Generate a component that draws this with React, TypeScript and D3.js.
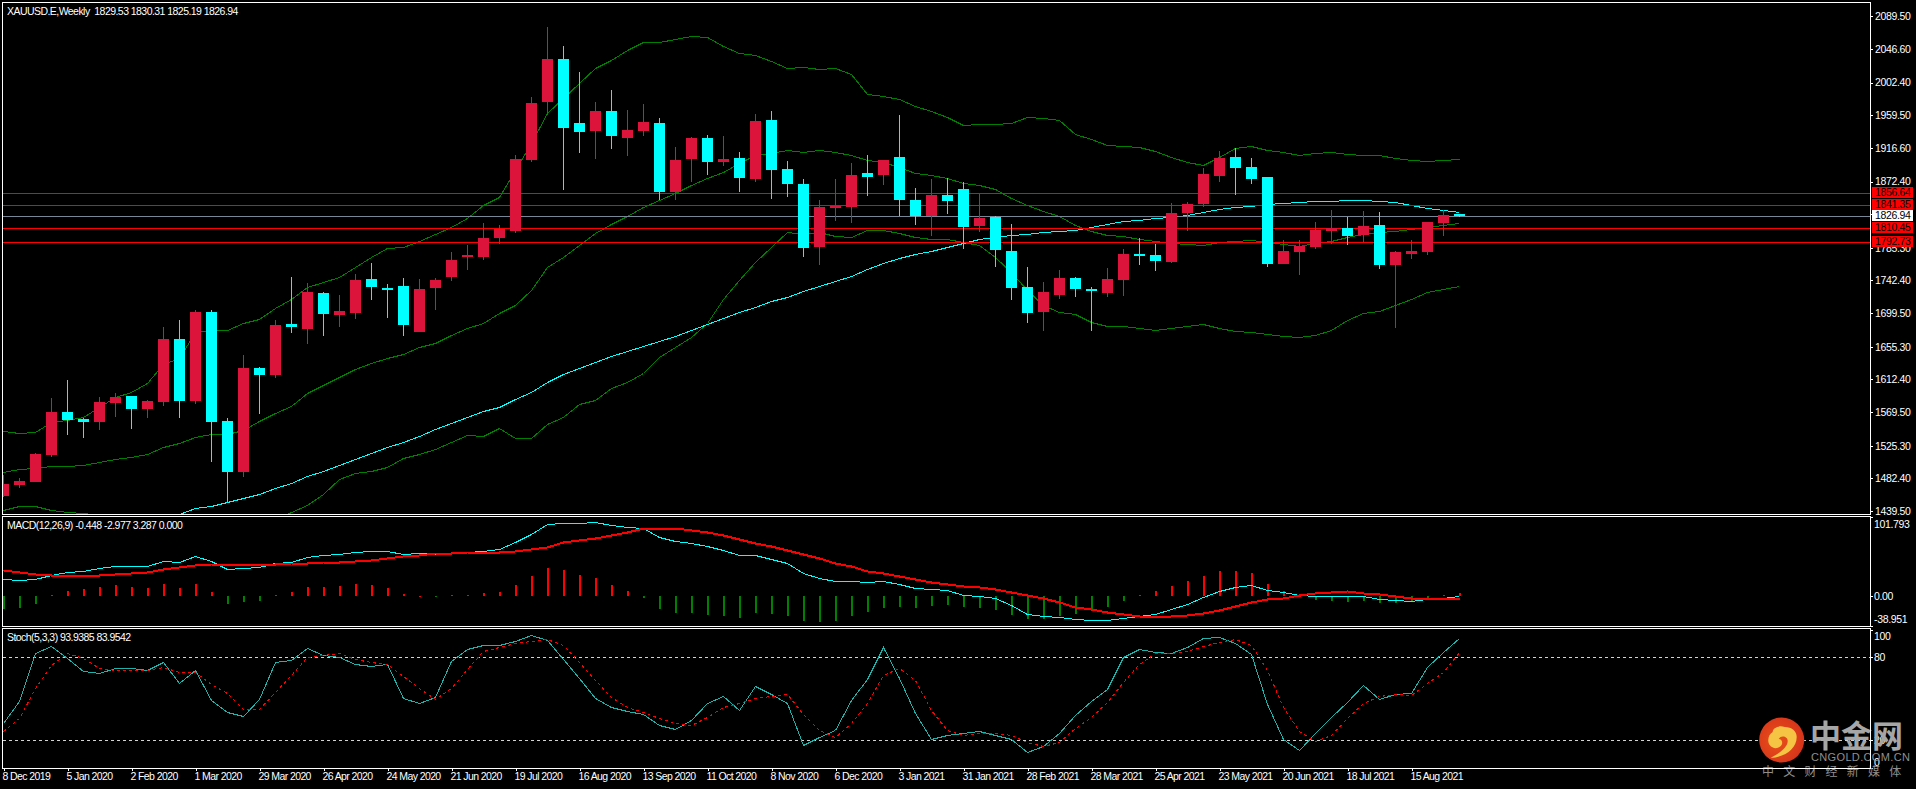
import * as d3 from "d3";
import { useEffect, useRef } from "react";

const W = 1916;
const H = 789;
const plotLeft = 3;
const plotRight = 1870;
const mainPane = { top: 3, bottom: 514 };
const macdPane = { top: 517, bottom: 626 };
const stochPane = { top: 629, bottom: 768 };

const opens = [1459.2,1473.7,1477.6,1513.1,1569.6,1560.4,1556.5,1581.4,1590.6,1573.5,1582.7,1665.5,1584.0,1701.0,1557.8,1490.8,1627.4,1618.2,1685.2,1678.7,1726.0,1697.1,1699.7,1744.4,1732.5,1735.2,1674.7,1732.5,1747.0,1773.3,1773.3,1798.2,1807.4,1900.7,1976.9,2033.4,1949.3,1938.8,1965.1,1929.6,1938.8,1949.3,1858.7,1902.0,1929.6,1898.1,1903.3,1875.8,1953.3,1888.9,1869.2,1786.4,1837.7,1839.0,1883.6,1881.0,1904.7,1848.2,1827.1,1854.7,1862.6,1814.0,1825.8,1781.1,1733.8,1701.0,1723.3,1745.7,1731.2,1726.0,1743.0,1777.2,1775.9,1766.7,1831.1,1842.9,1879.7,1904.7,1891.5,1878.4,1764.1,1779.8,1786.4,1807.4,1811.4,1802.2,1815.3,1762.8,1777.2,1779.8,1817.9,1829.53];
const highs = [1486.8,1482.9,1515.7,1588.0,1611.6,1561.7,1589.3,1594.6,1590.6,1585.4,1681.3,1690.5,1703.6,1703.6,1561.7,1644.5,1628.7,1690.5,1747.0,1739.1,1727.3,1723.3,1750.9,1765.4,1737.8,1745.7,1744.4,1745.7,1779.8,1789.0,1817.9,1815.3,1907.3,1983.5,2075.5,2050.5,2016.4,1976.9,1992.7,1966.4,1974.3,1955.9,1917.8,1930.9,1933.6,1932.3,1911.2,1961.2,1965.1,1899.4,1875.8,1848.2,1875.8,1896.8,1907.3,1900.7,1959.9,1863.9,1875.8,1877.1,1871.8,1856.0,1827.1,1816.6,1760.1,1740.4,1756.2,1747.0,1733.8,1758.8,1783.8,1798.2,1790.3,1844.2,1845.5,1890.2,1912.5,1916.5,1903.3,1878.4,1795.6,1795.6,1819.3,1835.0,1825.8,1833.7,1832.4,1781.1,1795.6,1819.3,1835.0,1830.31];
const lows = [1458.3,1469.7,1477.6,1510.5,1539.4,1535.4,1545.9,1563.0,1547.3,1561.7,1577.5,1561.7,1580.1,1503.9,1451.3,1484.2,1567.0,1614.3,1673.4,1658.9,1669.5,1681.3,1691.8,1716.8,1693.1,1669.5,1674.7,1703.6,1741.7,1756.2,1769.3,1790.3,1804.8,1898.1,1959.9,1861.3,1909.9,1902.0,1915.2,1906.0,1932.3,1848.2,1848.2,1871.8,1881.0,1892.8,1858.7,1871.8,1849.5,1852.1,1773.3,1762.8,1820.6,1817.9,1853.4,1867.9,1826.7,1815.3,1800.9,1829.8,1783.8,1806.1,1760.1,1716.8,1686.5,1676.0,1718.1,1720.7,1676.0,1720.7,1722.0,1762.8,1754.9,1765.4,1807.4,1839.0,1871.8,1854.7,1869.2,1760.1,1764.1,1749.6,1783.8,1790.3,1789.0,1793.0,1757.5,1680.0,1770.6,1775.9,1800.9,1825.19];
const closes = [1475.0,1478.9,1514.4,1569.6,1559.1,1556.5,1582.7,1589.3,1573.5,1584.0,1665.5,1584.0,1701.0,1556.5,1490.8,1627.4,1618.2,1683.9,1681.3,1727.3,1698.4,1702.3,1743.0,1733.8,1729.9,1683.9,1731.2,1743.0,1769.3,1775.9,1798.2,1810.5,1902.0,1975.6,2033.4,1942.8,1937.5,1965.1,1932.3,1940.1,1950.7,1858.7,1900.7,1929.6,1898.1,1902.0,1877.1,1952.0,1887.6,1869.2,1785.1,1839.0,1840.3,1881.0,1878.4,1900.7,1848.2,1827.1,1854.7,1846.9,1812.7,1824.5,1782.5,1732.5,1699.7,1727.3,1745.7,1731.2,1728.6,1744.4,1777.2,1775.9,1768.0,1831.1,1842.9,1882.3,1903.3,1890.2,1875.8,1764.1,1781.1,1787.7,1808.7,1811.4,1800.9,1814.0,1762.8,1779.8,1781.1,1819.3,1828.5,1826.94];

const bbUpper = [1545.1,1541.6,1543.3,1556.9,1559.1,1563.5,1575.7,1589.8,1596.3,1608.1,1632.7,1640.1,1675.2,1677.4,1677.4,1686.1,1691.4,1705.8,1718.1,1734.3,1740.9,1746.6,1760.6,1773.7,1784.7,1786.9,1794.8,1803.1,1813.2,1824.1,1841.6,1852.6,1887.6,1922.7,1962.1,1981.8,2001.5,2021.2,2032.2,2045.3,2056.2,2055.4,2059.3,2063.3,2061.9,2050.6,2041.8,2038.7,2030.8,2021.2,2022.5,2020.3,2021.2,2013.8,1987.9,1984.9,1980.5,1971.7,1965.1,1957.7,1946.3,1947.6,1948.5,1948.9,1956.8,1955.5,1953.3,1934.5,1927.9,1920.0,1919.6,1917.4,1912.6,1904.3,1897.7,1893.8,1905.1,1916.1,1918.7,1913.5,1910.8,1907.8,1909.5,1910.8,1908.2,1906.9,1906.9,1903.8,1900.3,1899.0,1900.3,1901.6];
const bbMiddle = [1491.2,1494.3,1496.5,1498.2,1498.2,1500.0,1504.4,1507.4,1510.1,1514.4,1523.2,1528.5,1537.2,1540.3,1540.3,1546.0,1558.2,1567.9,1577.5,1594.2,1605.1,1616.1,1625.7,1633.6,1640.1,1645.8,1654.6,1660.7,1670.8,1679.6,1687.0,1699.3,1710.2,1729.9,1760.6,1773.7,1789.1,1804.4,1816.7,1827.2,1839.4,1848.2,1857.0,1867.9,1876.7,1885.4,1896.4,1907.3,1909.5,1913.5,1911.7,1914.3,1910.8,1907.3,1900.8,1897.7,1892.0,1884.1,1881.0,1876.7,1870.1,1867.9,1862.7,1850.4,1841.6,1834.2,1827.2,1815.3,1807.9,1801.8,1800.9,1797.0,1794.8,1791.7,1789.9,1789.5,1792.6,1794.3,1796.1,1793.4,1789.9,1788.2,1791.3,1793.9,1800.0,1803.1,1805.7,1807.5,1809.7,1812.3,1815.3,1817.5];
const bbLower = [1440.9,1446.1,1446.1,1440.9,1437.8,1436.9,1434.3,1432,1429,1425,1420,1417,1414,1413,1415,1418,1422,1428,1438.7,1447.4,1461.4,1481.2,1489.9,1492.1,1497.8,1508.7,1514.4,1521.0,1529.8,1539.4,1538.1,1548.2,1535.0,1535.0,1553.4,1563.5,1580.1,1585.4,1600.7,1609.5,1621.3,1641.5,1655.5,1667.7,1687.0,1718.1,1743.1,1767.2,1786.9,1805.7,1804.0,1806.6,1800.9,1799.1,1808.8,1808.3,1805.3,1799.1,1797.4,1796.5,1792.6,1789.1,1773.7,1754.0,1729.9,1710.2,1700.6,1698.4,1688.3,1682.2,1682.2,1679.6,1676.9,1679.6,1683.1,1685.3,1679.6,1675.6,1674.3,1671.7,1669.9,1668.6,1670.4,1677.4,1690.5,1699.3,1701.9,1710.7,1718.1,1727.3,1730.8,1734.8];
const movingAvg = [1398,1401,1404,1407,1410,1413,1416,1419,1422,1425,1429,1435.2,1443.9,1446.6,1450.9,1456.2,1461.9,1469.3,1475.9,1485.5,1492.5,1500.0,1507.4,1515.3,1523.2,1530.6,1538.5,1546.9,1554.7,1563.5,1571.4,1576.6,1586.7,1596.3,1608.6,1619.6,1627.0,1634.9,1643.7,1650.2,1656.4,1663.4,1669.5,1677.4,1685.3,1692.7,1701.0,1708.0,1715.0,1721.2,1728.6,1735.2,1741.3,1748.8,1757.1,1765.9,1772.4,1777.2,1781.6,1786.0,1791.3,1796.5,1800.0,1802.2,1804.0,1805.7,1807.5,1809.2,1812.3,1816.7,1820.2,1821.9,1824.1,1826.3,1828.5,1832.9,1835.9,1838.6,1840.3,1842.9,1843.8,1845.6,1846.4,1846.4,1847.8,1847.8,1846.4,1845.1,1841.6,1837.2,1834.6,1832.0];

const macdMain = [21.5,20.2,22.0,26.7,30.6,31.8,35.7,37.9,37.9,38.3,44.8,43.5,51.2,45.2,34.4,35.7,37.4,42.2,44.3,50.4,52.5,53.8,56.0,57.7,57.7,53.8,54.7,53.8,55.5,56.4,58.5,60.3,68.9,80.1,92.5,93.8,93.8,95.1,92.1,89.5,87.4,75.8,70.2,68.4,64.6,59.4,52.9,52.5,48.2,42.2,29.3,23.2,18.9,18.9,17.6,18.9,15.5,9.5,8.2,6.9,1.7,0,-3.4,-11.2,-23.2,-26.3,-27.5,-29.3,-31.4,-31.4,-28.8,-25.8,-23.7,-16.4,-10.8,-1.7,5.6,11.2,13.8,6.9,5.2,1.7,0,-0.4,-0.4,-0.4,-3.9,-6.0,-6.9,-4.7,-2.2,-0.448];
const macdSignal = [33.6,31.4,28.8,26.3,26.3,26.3,26.3,28.4,29.3,30.6,34.4,37.0,40.0,40.9,41.3,41.3,41.3,41.7,42.6,43.0,43.5,44.3,44.8,46.9,49.1,51.2,52.9,54.7,55.5,56.0,56.4,56.8,57.7,60.3,63.7,69.3,72.3,75.3,78.3,81.8,87.4,87.8,87.8,85.2,82.6,78.8,73.6,68.4,64.6,59.4,54.2,48.6,42.2,37.9,32.7,29.3,25.4,22.0,18.1,15.5,12.5,11.2,8.6,5.2,1.3,-3.4,-8.2,-13.8,-17.6,-21.1,-24.1,-26.3,-26.7,-25.8,-25.0,-22.4,-18.5,-13.3,-8.6,-4.3,-2.2,0.9,3.4,4.7,5.6,4.3,2.2,-0.4,-2.2,-2.2,-2.6,-2.977];
const macdHist = [-17.6,-15.1,-10.3,0.9,6.5,9.0,11.6,14.2,11.6,10.3,15.5,10.3,15.5,5.2,-10.3,-7.7,-6.5,0.9,5.2,11.6,11.6,12.9,15.5,14.2,10.3,2.6,0.4,-0.4,0.9,0.9,3.9,5.2,14.2,25.8,36.2,33.6,27.1,23.2,14.2,6.5,-2.6,-16.8,-22.0,-22.0,-24.5,-25.8,-28.4,-22.0,-23.2,-25.8,-32.3,-33.6,-32.3,-25.8,-20.7,-15.5,-14.2,-15.5,-12.9,-11.6,-14.2,-15.5,-18.1,-24.5,-29.7,-29.7,-25.8,-23.2,-19.4,-14.2,-6.5,1.3,5.6,12.9,19.4,25.8,32.3,32.3,29.7,15.5,6.5,0.2,-5.2,-6.5,-7.7,-6.5,-9.0,-9.0,-7.7,-4.3,0.9,3.287];

const stochMain = [32.8,48.4,83.4,88.2,79.3,70.4,68.4,72.0,72.0,70.8,76.4,61.2,71.1,49.2,40.2,37.8,50.1,76.6,78.3,86.7,81.4,80.2,74.9,74.0,74.9,50.4,46.7,51.1,77.6,86.0,88.7,88.7,92.1,95.9,92.3,78.8,64.8,50.4,43.8,41.0,38.8,31.1,27.9,34.7,46.7,51.8,41.7,59.5,53.5,46.7,16.9,22.2,27.7,48.9,64.1,87.2,64.8,39.5,21.2,23.8,25.5,26.5,23.6,21.2,11.3,15.9,25.5,38.3,48.4,56.9,80.5,85.8,83.6,83.4,87.2,93.7,94.5,90.6,82.4,46.3,21.2,12.8,25.5,37.1,47.5,59.8,49.6,53.3,54.2,73.3,84.1,93.94];
const stochSignal = [26.7,35.9,57.6,74.5,83.4,79.3,72.5,70.6,70.6,71.1,73.0,69.2,69.6,60.5,54.0,42.6,42.9,55.2,67.2,80.5,81.9,82.9,78.8,76.4,74.9,66.7,58.1,49.6,57.6,71.3,84.8,87.7,90.6,92.1,93.0,88.7,76.9,63.6,51.6,44.3,40.7,35.9,32.3,31.1,37.1,44.3,46.7,50.8,52.0,53.5,39.0,27.5,22.2,32.3,46.7,67.2,72.5,63.6,41.9,27.5,23.8,25.5,25.1,23.8,19.0,16.1,18.5,28.7,37.1,47.5,62.2,74.9,82.9,83.4,84.3,88.2,90.8,93.3,88.9,70.8,44.3,27.0,19.7,23.8,35.9,47.2,52.0,53.7,52.8,61.2,69.6,83.95];

const priceTicks = [2089.5,2046.6,2002.4,1959.5,1916.6,1872.4,1829.5,1785.3,1742.4,1699.5,1655.3,1612.4,1569.5,1525.3,1482.4,1439.5];
const levels = [1856.64,1841.35,1810.45,1792.73];
const lastPrice = 1826.94;
const macdTicks = [101.793,0,-38.951];
const stochTicks = [100,80,20,0];
const stochLevels = [80,20];
const dateLabels = ["8 Dec 2019","5 Jan 2020","2 Feb 2020","1 Mar 2020","29 Mar 2020","26 Apr 2020","24 May 2020","21 Jun 2020","19 Jul 2020","16 Aug 2020","13 Sep 2020","11 Oct 2020","8 Nov 2020","6 Dec 2020","3 Jan 2021","31 Jan 2021","28 Feb 2021","28 Mar 2021","25 Apr 2021","23 May 2021","20 Jun 2021","18 Jul 2021","15 Aug 2021"];

const font = "'Liberation Sans', Arial, sans-serif";

function drawChart(node: SVGSVGElement) {
  const svg = d3.select(node);
  svg.selectAll("*").remove();

  const x = d3.scaleLinear().domain([0, opens.length - 1]).range([3.5, 1459.5]);
  const yPrice = d3.scaleLinear().domain([1439.5, 2089.5]).range([511, 16.3]);
  const yMacd = d3.scaleLinear().domain([-38.951, 101.793]).range([macdPane.bottom, macdPane.top]);
  const yStoch = d3.scaleLinear().domain([0, 100]).range([stochPane.bottom, 629.6]);

  svg.append("rect").attr("width", W).attr("height", H).attr("fill", "#000");

  const defs = svg.append("defs");
  const addClip = (id: string, pane: { top: number; bottom: number }) =>
    defs
      .append("clipPath")
      .attr("id", id)
      .append("rect")
      .attr("x", plotLeft)
      .attr("y", pane.top)
      .attr("width", plotRight - plotLeft)
      .attr("height", pane.bottom - pane.top);
  addClip("main-clip", mainPane);
  addClip("macd-clip", macdPane);
  addClip("stoch-clip", stochPane);

  const drawLine = (
    g: d3.Selection<SVGGElement, unknown, null, undefined>,
    values: number[],
    y: d3.ScaleLinear<number, number>,
    color: string,
    width = 1,
    dash?: string
  ) => {
    const line = d3
      .line<number>()
      .x((_, i) => x(i))
      .y((d) => Math.round(y(d)) + 0.5);
    g.append("path")
      .attr("d", line(values))
      .attr("fill", "none")
      .attr("stroke", color)
      .attr("stroke-width", width)
      .attr("stroke-dasharray", dash ?? null)
      .attr("shape-rendering", "crispEdges");
  };

  // main pane
  const main = svg.append("g").attr("clip-path", "url(#main-clip)");
  drawLine(main, bbUpper, yPrice, "#008000");
  drawLine(main, bbMiddle, yPrice, "#008000");
  drawLine(main, bbLower, yPrice, "#008000");
  drawLine(main, movingAvg, yPrice, "#00ffff");

  const hLines = [...levels.map((v) => ({ v, c: "#ff0000" })), { v: lastPrice, c: "#778899" }];
  main
    .selectAll("line.level")
    .data(hLines)
    .enter()
    .append("line")
    .attr("x1", plotLeft)
    .attr("x2", plotRight)
    .attr("y1", (d) => Math.floor(yPrice(d.v)) + 0.5)
    .attr("y2", (d) => Math.floor(yPrice(d.v)) + 0.5)
    .attr("stroke", (d) => d.c)
    .attr("shape-rendering", "crispEdges");

  const candleColor = (i: number) => (closes[i] >= opens[i] ? "#dc143c" : "#00ffff");
  const candles = main
    .selectAll("g.candle")
    .data(opens)
    .enter()
    .append("g")
    .attr("class", "candle")
    .attr("shape-rendering", "crispEdges");
  candles
    .append("line")
    .attr("x1", (_, i) => x(i))
    .attr("x2", (_, i) => x(i))
    .attr("y1", (_, i) => Math.round(yPrice(highs[i])))
    .attr("y2", (_, i) => Math.round(yPrice(lows[i])))
    .attr("stroke", (_, i) => candleColor(i));
  candles
    .append("rect")
    .attr("x", (_, i) => x(i) - 5.5)
    .attr("width", 11)
    .attr("y", (_, i) => Math.round(yPrice(Math.max(opens[i], closes[i]))))
    .attr("height", (_, i) =>
      Math.max(2, Math.round(yPrice(Math.min(opens[i], closes[i]))) - Math.round(yPrice(Math.max(opens[i], closes[i]))))
    )
    .attr("fill", (_, i) => candleColor(i));

  // macd pane
  const macd = svg.append("g").attr("clip-path", "url(#macd-clip)");
  macd
    .selectAll("rect")
    .data(macdHist)
    .enter()
    .append("rect")
    .attr("x", (_, i) => x(i) - 1)
    .attr("width", 2)
    .attr("y", (d) => Math.min(yMacd(d), yMacd(0)))
    .attr("height", (d) => Math.max(1, Math.abs(yMacd(d) - yMacd(0))))
    .attr("fill", (d) => (d >= 0 ? "#ff0000" : "#008000"))
    .attr("shape-rendering", "crispEdges");
  drawLine(macd, macdMain, yMacd, "#00ffff");
  drawLine(macd, macdSignal, yMacd, "#ff0000", 2);

  // stochastic pane
  const stoch = svg.append("g").attr("clip-path", "url(#stoch-clip)");
  stoch
    .selectAll("line")
    .data(stochLevels)
    .enter()
    .append("line")
    .attr("x1", plotLeft)
    .attr("x2", plotRight)
    .attr("y1", (d) => Math.round(yStoch(d)) + 0.5)
    .attr("y2", (d) => Math.round(yStoch(d)) + 0.5)
    .attr("stroke", "#d3d3d3")
    .attr("stroke-dasharray", "3 3")
    .attr("shape-rendering", "crispEdges");
  drawLine(stoch, stochMain, yStoch, "#20b2aa");
  drawLine(stoch, stochSignal, yStoch, "#ff0000", 1, "3 3");

  // axes
  const styleAxis = (g: d3.Selection<SVGGElement, unknown, null, undefined>) => {
    g.select(".domain").remove();
    g.selectAll("line").attr("stroke", "#fff").attr("shape-rendering", "crispEdges");
    g.selectAll("text")
      .attr("fill", "#fff")
      .style("font-family", font)
      .style("font-size", "10.5px")
      .style("letter-spacing", "-0.35px");
  };

  svg
    .append("g")
    .attr("transform", `translate(${plotRight},0)`)
    .call(d3.axisRight(yPrice).tickValues(priceTicks).tickSize(3).tickPadding(2).tickFormat((d) => (d as number).toFixed(2)))
    .call(styleAxis);

  const macdAxis = svg
    .append("g")
    .attr("transform", `translate(${plotRight},0)`)
    .call(
      d3
        .axisRight(yMacd)
        .tickValues(macdTicks)
        .tickSize(3)
        .tickPadding(1)
        .tickFormat((d) => (d === 0 ? "0.00" : (d as number).toFixed(3)))
    )
    .call(styleAxis);
  // top and bottom labels sit inside the pane
  macdAxis.selectAll<SVGTextElement, number>("text").attr("dy", (d) => (d === 101.793 ? "1.0em" : d === -38.951 ? "-0.3em" : "0.32em"));

  const stochAxis = svg
    .append("g")
    .attr("transform", `translate(${plotRight},0)`)
    .call(d3.axisRight(yStoch).tickValues(stochTicks).tickSize(3).tickPadding(1).tickFormat((d) => `${d}`))
    .call(styleAxis);
  stochAxis.selectAll<SVGTextElement, number>("text").attr("dy", (d) => (d === 100 ? "0.9em" : d === 0 ? "-0.25em" : "0.32em"));

  const dateAxis = svg
    .append("g")
    .attr("transform", `translate(0,${stochPane.bottom})`)
    .call(
      d3
        .axisBottom(x)
        .tickValues(dateLabels.map((_, i) => i * 4))
        .tickSize(3)
        .tickPadding(2)
        .tickFormat((_, i) => dateLabels[i])
    )
    .call(styleAxis);
  dateAxis.selectAll("text").attr("text-anchor", "start").attr("x", -1.5).style("letter-spacing", "-0.6px");

  // price boxes on the right edge
  const boxes = [...levels.map((v) => ({ v, bg: "#ff0000" })), { v: lastPrice, bg: "#ffffff" }];
  const box = svg.selectAll("g.box").data(boxes).enter().append("g").attr("class", "box");
  box
    .append("rect")
    .attr("x", 1872)
    .attr("width", 41)
    .attr("height", 11)
    .attr("y", (d) => Math.floor(yPrice(d.v)) - 6)
    .attr("fill", (d) => d.bg)
    .attr("shape-rendering", "crispEdges");
  box
    .append("text")
    .attr("x", 1875)
    .attr("y", (d) => Math.floor(yPrice(d.v)) + 3)
    .attr("fill", "#000")
    .style("font-family", font)
    .style("font-size", "10.5px")
    .style("letter-spacing", "-0.35px")
    .text((d) => d.v.toFixed(2));

  // indicator captions
  const caption = (tx: number, ty: number, s: string) =>
    svg
      .append("text")
      .attr("x", tx)
      .attr("y", ty)
      .attr("fill", "#fff")
      .style("font-family", font)
      .style("font-size", "10.5px")
      .style("letter-spacing", "-0.55px")
      .style("white-space", "pre")
      .text(s);
  caption(7, 14.5, "XAUUSD.E,Weekly  1829.53 1830.31 1825.19 1826.94");
  caption(7, 529, "MACD(12,26,9) -0.448 -2.977 3.287 0.000");
  caption(7, 641, "Stoch(5,3,3) 93.9385 83.9542");

  // watermark
  const logo = svg.append("g");
  const grad = defs.append("radialGradient").attr("id", "logo-grad").attr("cx", "0.4").attr("cy", "0.5").attr("r", "0.7");
  grad.append("stop").attr("offset", "0").attr("stop-color", "#e8501a");
  grad.append("stop").attr("offset", "1").attr("stop-color", "#d42f1a");
  logo.append("circle").attr("cx", 1781.7).attr("cy", 740).attr("r", 22.5).attr("fill", "url(#logo-grad)");
  logo
    .append("path")
    .attr("transform", "translate(1781.7,740)")
    .attr("d", "M-11,18 C3,17 15,9 15,-3 C15,-9 10,-13 3,-13 C-3,-15 -9,-12 -9,-8 C-13,-6 -15,1 -12,5 C-9,9 -4,9 -1,6 C2,3 0,-1 -3,-1 C-1,-5 6,-4 6,1 C6,8 -4,14 -11,18 Z")
    .attr("fill", "#f6c445");
  logo
    .append("text")
    .attr("x", 1810)
    .attr("y", 746.5)
    .attr("fill", "#a6a6a6")
    .style("font-family", "'Noto Sans CJK SC'")
    .style("font-weight", "700")
    .style("font-size", "31px")
    .text("中金网");
  logo
    .append("text")
    .attr("x", 1811)
    .attr("y", 761)
    .attr("fill", "#8f8f8f")
    .style("font-family", font)
    .style("font-size", "11px")
    .style("letter-spacing", "0.35px")
    .text("CNGOLD.COM.CN");
  logo
    .append("text")
    .attr("x", 1762)
    .attr("y", 775.5)
    .attr("fill", "#8f8f8f")
    .style("font-family", "'Noto Sans CJK SC'")
    .style("font-size", "12px")
    .style("letter-spacing", "9.2px")
    .text("中文财经新媒体");

  // frames go last, they run over the watermark
  const frames = [mainPane, macdPane, stochPane];
  svg
    .selectAll("rect.frame")
    .data(frames)
    .enter()
    .append("rect")
    .attr("class", "frame")
    .attr("x", plotLeft - 0.5)
    .attr("y", (d) => d.top - 0.5)
    .attr("width", plotRight - plotLeft + 1)
    .attr("height", (d) => d.bottom - d.top + 1)
    .attr("fill", "none")
    .attr("stroke", "#fff")
    .attr("shape-rendering", "crispEdges");
}

export default function App() {
  const ref = useRef<SVGSVGElement>(null);

  useEffect(() => {
    if (ref.current) drawChart(ref.current);
  }, []);

  return (
    <svg
      ref={ref}
      width={W}
      height={H}
      style={{ position: "absolute", left: 0, top: 0, display: "block" }}
    ></svg>
  );
}
